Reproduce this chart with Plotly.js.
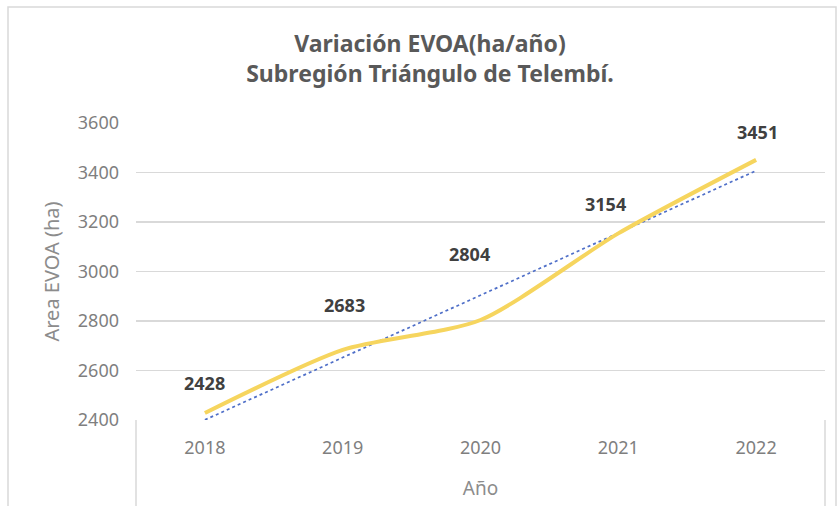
<!DOCTYPE html>
<html>
<head>
<meta charset="utf-8">
<script src="https://cdn.plot.ly/plotly-3.0.1.min.js"></script>
<style>
html,body{margin:0;padding:0;background:#fff;}
#chart{width:838px;height:506px;}
</style>
</head>
<body>
<div id="chart"></div>
<script>
// ---- data ----
const years = ['2018', '2019', '2020', '2021', '2022'];
const areaEVOA = [2428, 2683, 2804, 3154, 3451];
const yTicks = [2400, 2600, 2800, 3000, 3200, 3400, 3600];

// label placement (pixels, not data)
const labelDx = [0, 2, -11, -13, 1];
const labelDy = [30, 45, 66, 29, 28];

// linear trendline (least squares fit of the series)
const n = areaEVOA.length;
const idx = areaEVOA.map((_, i) => i);
const mx = idx.reduce((a, b) => a + b, 0) / n;
const my = areaEVOA.reduce((a, b) => a + b, 0) / n;
let sxy = 0, sxx = 0;
idx.forEach(i => { sxy += (i - mx) * (areaEVOA[i] - my); sxx += (i - mx) * (i - mx); });
const slope = sxy / sxx;
const intercept = my - slope * mx;
const trend = idx.map(i => intercept + slope * i);

const font = "'Noto Sans', 'Open Sans', sans-serif";

const traces = [
  {
    x: years, y: trend, type: 'scatter', mode: 'lines',
    line: {color: '#4F6FC8', width: 1.7, dash: 'dot'},
    hoverinfo: 'skip', showlegend: false
  },
  {
    x: years, y: areaEVOA, type: 'scatter', mode: 'lines',
    line: {color: '#F6D55E', width: 4, shape: 'spline', smoothing: 0.7},
    showlegend: false
  }
];

// annotation x given as category index on the category axis
const annotations = years.map((yr, i) => ({
  x: i, y: areaEVOA[i], xref: 'x', yref: 'y',
  text: '<b>' + areaEVOA[i] + '</b>', showarrow: false,
  xshift: labelDx[i], yshift: labelDy[i],
  font: {family: font, size: 18, color: '#404040'}
}));

// plot area in px: x 136..825, y 123..420
const L = 136, R = 825, T = 123, B = 420;
const px = v => (v - L) / (R - L);
const py = v => (B - v) / (B - T);
const grey = '#D9D9D9';
const shapes = [
  {type: 'rect', xref: 'paper', yref: 'paper', x0: px(8), x1: px(836), y0: py(530), y1: py(7),
   line: {color: grey, width: 1.5}, layer: 'below'},
  {type: 'line', xref: 'paper', yref: 'paper', x0: 0, x1: 0, y0: py(530), y1: 0,
   line: {color: grey, width: 1.5}},
  {type: 'line', xref: 'paper', yref: 'paper', x0: 1, x1: 1, y0: py(530), y1: 0,
   line: {color: grey, width: 1.5}}
];

const layout = {
  width: 838, height: 506,
  margin: {l: L, r: 838 - R, t: T, b: 506 - B},
  paper_bgcolor: '#ffffff', plot_bgcolor: '#ffffff',
  font: {family: font, color: '#7F7F7F'},
  title: {
    text: '<b>Variación EVOA(ha/año)<br>Subregión Triángulo de Telembí.</b>',
    x: 430 / 838, xref: 'container', xanchor: 'center',
    y: 1 - 52 / 506, yref: 'container', yanchor: 'top',
    font: {family: font, size: 23, color: '#595959'}
  },
  xaxis: {
    type: 'category', range: [-0.5, 4.5], autorange: false,
    showgrid: false, zeroline: false, showline: false, ticks: '',
    tickfont: {family: font, size: 18, color: '#7F7F7F'},
    ticklabelstandoff: 15,
    title: {text: 'Año', font: {family: font, size: 19, color: '#8C8C8C'}, standoff: 23}
  },
  yaxis: {
    range: [2400, 3600], autorange: false, tickvals: yTicks,
    showgrid: true, gridcolor: grey, gridwidth: 1.2,
    zeroline: false, showline: false, ticks: '',
    tickfont: {family: font, size: 18, color: '#7F7F7F'},
    ticklabelstandoff: 16,
    title: {text: 'Area EVOA (ha)', font: {family: font, size: 20, color: '#8C8C8C'}, standoff: 12}
  },
  annotations: annotations,
  shapes: shapes
};

Plotly.newPlot('chart', traces, layout, {displayModeBar: false, staticPlot: true});
</script>
</body>
</html>
